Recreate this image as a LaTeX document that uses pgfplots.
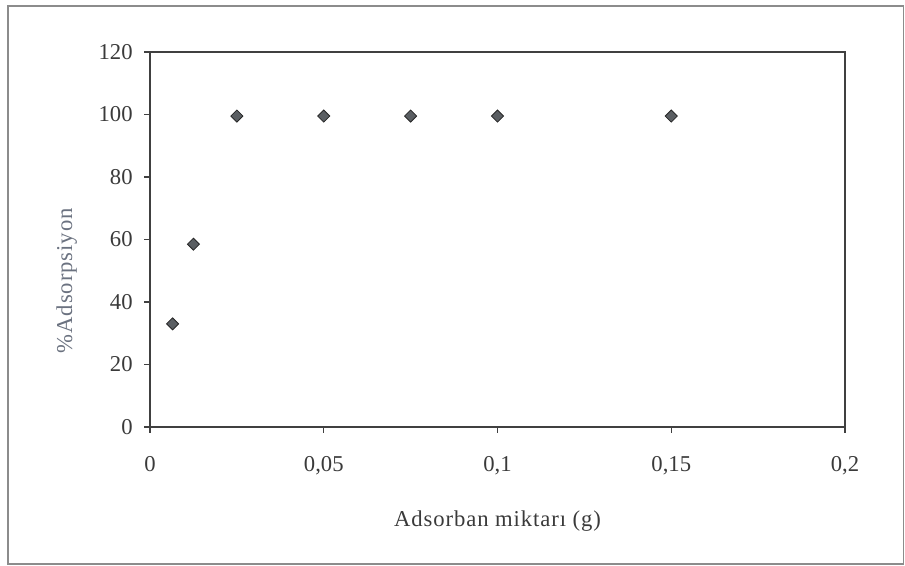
\documentclass[border=0pt]{standalone}
\usepackage{fontspec}
\setmainfont{Liberation Serif}
\newfontfamily\labelfont[LetterSpace=4]{Liberation Serif}
\usepackage{pgfplots}
\pgfplotsset{compat=1.18}
\definecolor{txt}{HTML}{3A3A3A}
\definecolor{ylab}{HTML}{6B7280}
\definecolor{mk}{HTML}{5A5E62}
\begin{document}
\begin{tikzpicture}
\useasboundingbox (0,0) rectangle (678.75pt,424.5pt);
\draw[black!45, line width=0.8pt] (6pt,1.5pt) rectangle (677.5pt,420pt);
\begin{axis}[
  at={(112.5pt,104.25pt)}, anchor=south west,
  scale only axis, width=521.25pt, height=281.25pt,
  xmin=0, xmax=0.2, ymin=0, ymax=120,
  xtick={0,0.05,0.1,0.15,0.2},
  xticklabels={0,{0,05},{0,1},{0,15},{0,2}},
  ytick={0,20,40,60,80,100,120},
  /pgf/number format/assume math mode=true,
  tick align=outside, major tick length=4.5pt,
  xtick pos=bottom, ytick pos=left,
  axis line style={black!75, line width=0.8pt},
  tick style={black!75, line width=0.8pt},
  ticklabel style={font=\fontsize{17}{19}\selectfont, text=txt},
  xticklabel style={yshift=-14pt},
  yticklabel style={xshift=-5pt},
  xlabel={Adsorban miktarı (g)},
  ylabel={\%Adsorpsiyon},
  xlabel style={at={(axis description cs:0.5,-0.25)}, anchor=center, font=\labelfont\fontsize{17}{19}\selectfont, text=txt},
  ylabel style={at={(axis description cs:-0.12,0.39)}, anchor=center, rotate=0, font=\labelfont\fontsize{17}{19}\selectfont, text=ylab},
]
\addplot[only marks, mark=square*, mark size=3.2pt, mark options={rotate=45, fill=mk, draw=black!85, line width=0.6pt}]
coordinates {
(0.0065,33) (0.0125,58.5) (0.025,99.5) (0.05,99.5) (0.075,99.5) (0.1,99.5) (0.15,99.5)
};
\end{axis}
\end{tikzpicture}
\end{document}
